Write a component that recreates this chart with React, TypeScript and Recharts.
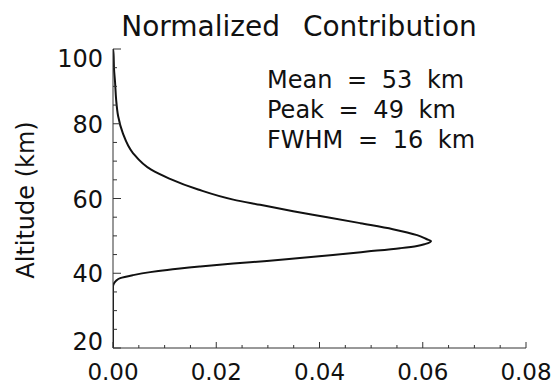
import React from 'react';
import { LineChart, Line, XAxis, YAxis } from 'recharts';

const altitudes = [20, 30, 36.5, 37.3, 38.0, 38.7, 39.5, 40.3, 40.9, 41.8, 42.6, 43.3, 44.1, 44.9, 45.8, 46.7, 47.3, 47.8, 48.3, 48.6, 49.1, 50.2, 51.8, 53.4, 55.0, 56.6, 58.3, 59.7, 62.4, 65.4, 67.7, 72.1, 77.5, 82.0, 86.6, 91.1, 94.6, 98.7, 100];
const contributions = [0, 0, 0, 0.0002, 0.0006, 0.0014, 0.0039, 0.0072, 0.0105, 0.0169, 0.0233, 0.0298, 0.0362, 0.0426, 0.0492, 0.0556, 0.0589, 0.0604, 0.0614, 0.0616, 0.0608, 0.0589, 0.0542, 0.0479, 0.0415, 0.0349, 0.0285, 0.0233, 0.0165, 0.0108, 0.0074, 0.0039, 0.0019, 0.0010, 0.0006, 0.0004, 0.0002, 0.0001, 0];

const xTicks = [0, 0.005, 0.01, 0.015, 0.02, 0.025, 0.03, 0.035, 0.04, 0.045, 0.05, 0.055, 0.06, 0.065, 0.07, 0.075, 0.08];
const xMajorTicks = [0, 0.02, 0.04, 0.06, 0.08];
const yTicks = [20, 25, 30, 35, 40, 45, 50, 55, 60, 65, 70, 75, 80, 85, 90, 95, 100];
const yMajorTicks = [20, 40, 60, 80, 100];

const titleText = 'Normalized Contribution';
const yAxisTitle = 'Altitude (km)';
const statsLines = ['Mean = 53 km', 'Peak = 49 km', 'FWHM = 16 km'];

const data = altitudes.map((a, i) => ({ alt: a, contrib: contributions[i] }));

const FONT = '"DejaVu Sans", sans-serif';
const TICK_COLOR = '#333';

const isIn = (arr: number[], v: number) => arr.some((m) => Math.abs(m - v) < 1e-9);

const BottomTick = (props: any) => {
  const { x, y, payload } = props;
  const v = payload.value;
  const major = isIn(xMajorTicks, v);
  return (
    <g>
      <line x1={x} x2={x} y1={y} y2={y - (major ? 6 : 3)} stroke={TICK_COLOR} strokeWidth={1} />
      {major && (
        <text x={x} y={y + 32} textAnchor="middle" fontSize={23} fontFamily={FONT} fill="#111">
          {v.toFixed(2)}
        </text>
      )}
    </g>
  );
};

const TopTick = (props: any) => {
  const { x, y, payload } = props;
  const major = isIn(xMajorTicks, payload.value);
  return <line x1={x} x2={x} y1={y} y2={y + (major ? 6 : 3)} stroke={TICK_COLOR} strokeWidth={1} />;
};

const LeftTick = (props: any) => {
  const { x, y, payload } = props;
  const v = payload.value;
  const major = isIn(yMajorTicks, v);
  const shift = v === 100 ? 9 : v === 20 ? -7 : 0;
  return (
    <g>
      <line x1={x} x2={x + (major ? 8 : 4)} y1={y} y2={y} stroke={TICK_COLOR} strokeWidth={1} />
      {major && (
        <text x={x - 10} y={y + 9 + shift} textAnchor="end" fontSize={24} fontFamily={FONT} fill="#111">
          {String(v)}
        </text>
      )}
    </g>
  );
};

const RightTick = (props: any) => {
  const { x, y, payload } = props;
  const major = isIn(yMajorTicks, payload.value);
  return <line x1={x} x2={x - (major ? 8 : 4)} y1={y} y2={y} stroke={TICK_COLOR} strokeWidth={1} />;
};

export default function App() {
  return (
    <div style={{ position: 'absolute', left: 0, top: 0, width: 555, height: 385, background: '#fff' }}>
      <LineChart
        width={555}
        height={385}
        data={data}
        layout="vertical"
        margin={{ top: 49, right: 29, bottom: 0, left: 0 }}
      >
        <XAxis
          xAxisId="bottom"
          orientation="bottom"
          type="number"
          domain={[0, 0.08]}
          allowDataOverflow
          ticks={xTicks}
          interval={0}
          height={37}
          tickSize={0}
          tickMargin={0}
          tickLine={false}
          axisLine={{ stroke: TICK_COLOR, strokeWidth: 1 }}
          tick={<BottomTick />}
        />
        <XAxis
          xAxisId="top"
          orientation="top"
          type="number"
          domain={[0, 0.08]}
          allowDataOverflow
          ticks={xTicks}
          interval={0}
          height={0}
          tickSize={0}
          tickMargin={0}
          tickLine={false}
          axisLine={{ stroke: TICK_COLOR, strokeWidth: 1 }}
          tick={<TopTick />}
        />
        <YAxis
          yAxisId="left"
          orientation="left"
          type="number"
          dataKey="alt"
          domain={[20, 100]}
          allowDataOverflow
          reversed
          ticks={yTicks}
          interval={0}
          width={113}
          tickSize={0}
          tickMargin={0}
          tickLine={false}
          axisLine={{ stroke: TICK_COLOR, strokeWidth: 1 }}
          tick={<LeftTick />}
        />
        <YAxis
          yAxisId="right"
          orientation="right"
          type="number"
          domain={[20, 100]}
          allowDataOverflow
          reversed
          ticks={yTicks}
          interval={0}
          width={0}
          tickSize={0}
          tickMargin={0}
          tickLine={false}
          axisLine={{ stroke: TICK_COLOR, strokeWidth: 1 }}
          tick={<RightTick />}
        />
        <Line
          xAxisId="bottom"
          yAxisId="left"
          dataKey="contrib"
          type="monotone"
          stroke="#111"
          strokeWidth={2}
          dot={false}
          isAnimationActive={false}
        />
        <text x={299} y={36} textAnchor="middle" fontSize={28} fontFamily={FONT} fill="#111" style={{ wordSpacing: 14 }}>
          {titleText}
        </text>
        <text
          x={34}
          y={200}
          textAnchor="middle"
          fontSize={24}
          fontFamily={FONT}
          fill="#111"
          transform="rotate(-90, 34, 200)"
        >
          {yAxisTitle}
        </text>
        {statsLines.map((s, i) => (
          <text key={s} x={267} y={88 + i * 30} fontSize={24} fontFamily={FONT} fill="#111" style={{ wordSpacing: 7 }}>
            {s}
          </text>
        ))}
      </LineChart>
    </div>
  );
}
